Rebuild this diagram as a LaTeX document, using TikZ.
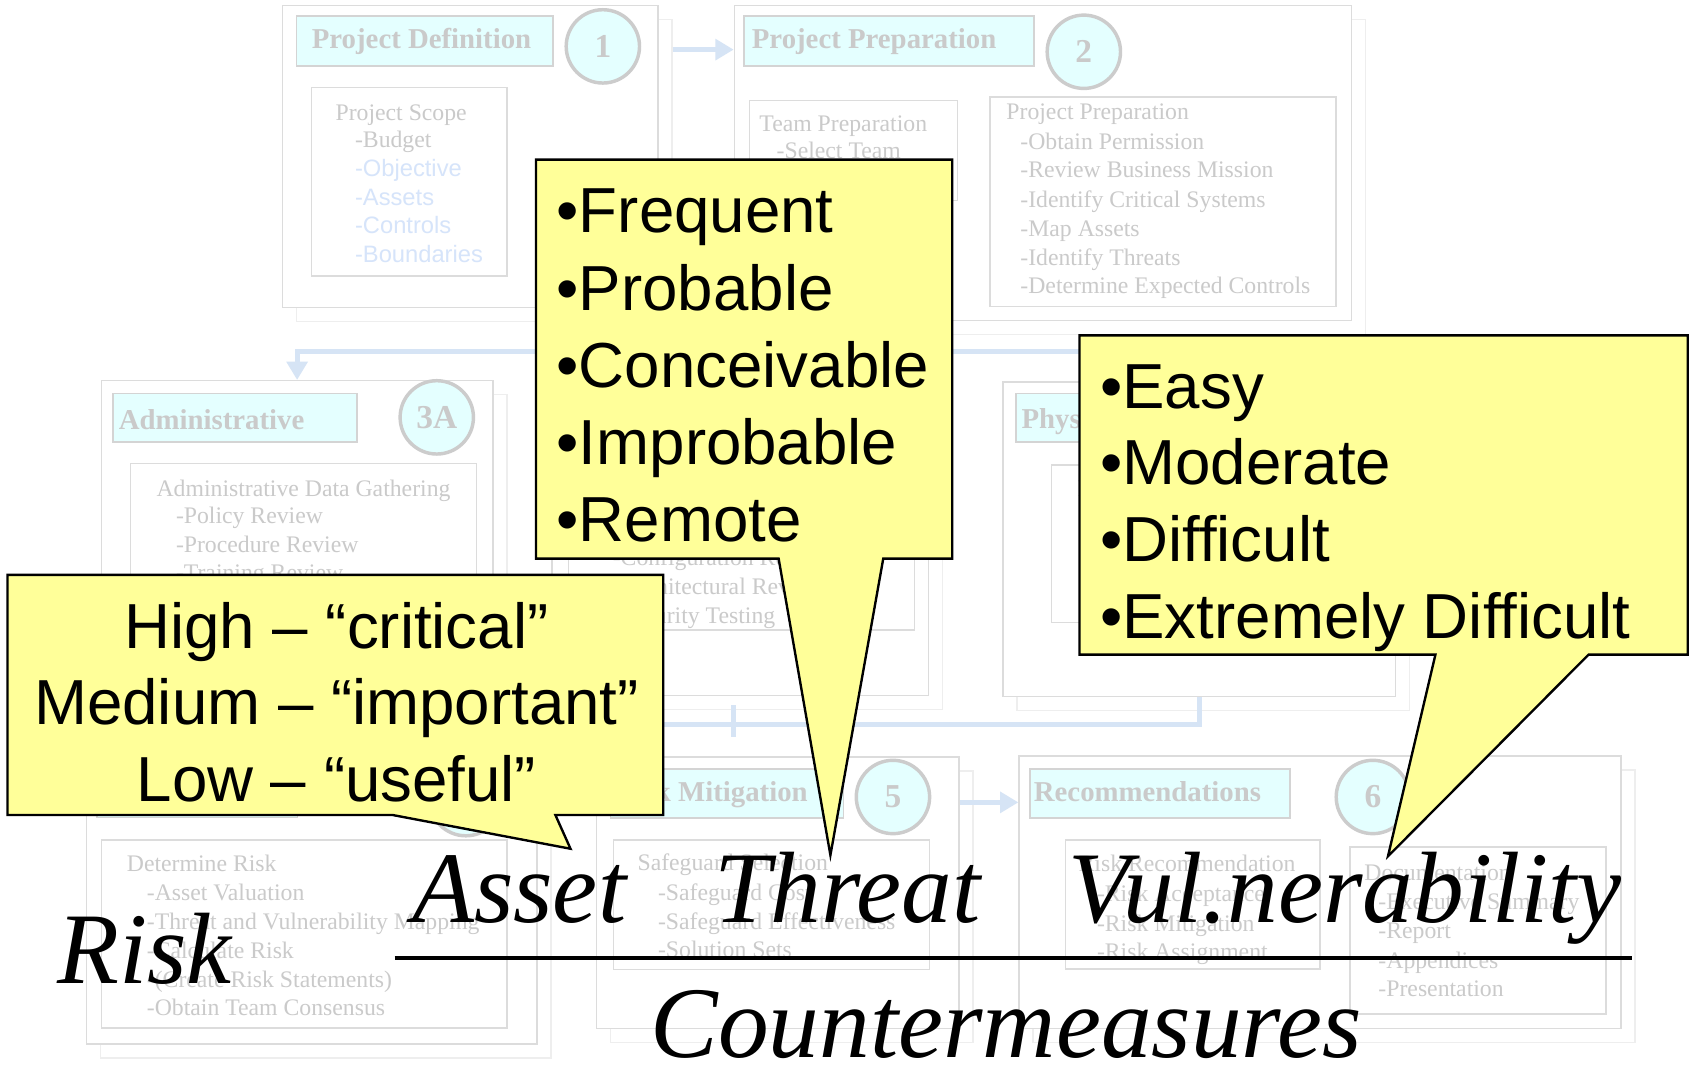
\documentclass[tikz,border=0pt]{standalone}
\usepackage{fontspec}
\setmainfont{Liberation Serif}
\newfontfamily\slidefont{Liberation Serif}
\newfontfamily\slidesans{Liberation Sans}
\newfontfamily\calloutfont{Liberation Sans}
\usetikzlibrary{arrows.meta,fit}

\definecolor{textgray}{RGB}{202,202,202}
\definecolor{itemblue}{RGB}{214,228,250}
\definecolor{framegray}{RGB}{220,220,220}
\definecolor{shadowgray}{RGB}{238,238,238}
\definecolor{titlefill}{RGB}{228,255,255}
\definecolor{titleedge}{RGB}{212,212,212}
\definecolor{ringgray}{RGB}{204,204,204}
\definecolor{flowblue}{RGB}{214,228,245}
\definecolor{calloutfill}{RGB}{255,255,153}

\tikzset{
  stageframe/.style={draw=framegray, line width=1.4pt, fill=white, inner sep=0pt},
  stageshadow/.style={draw=shadowgray, line width=1.4pt, fill=white, inner sep=0pt},
  stagetitle/.style={draw=titleedge, line width=1.4pt, fill=titlefill, inner sep=0pt},
  innerframe/.style={draw=framegray, line width=1.4pt, inner sep=0pt},
  stepring/.style={circle, draw=ringgray, line width=3.2pt, fill=titlefill,
    minimum size=68pt, inner sep=0pt, text=textgray,
    font=\slidefont\bfseries\fontsize{31}{31}\selectfont},
  titletext/.style={anchor=base west, inner sep=0pt, text=textgray,
    font=\slidefont\bfseries\fontsize{26.7}{30}\selectfont},
  itemtext/.style={anchor=base west, inner sep=0pt, text=textgray,
    font=\slidefont\fontsize{22}{26}\selectfont},
  itemblue/.style={anchor=base west, inner sep=0pt, text=itemblue,
    font=\slidesans\fontsize{22}{26}\selectfont},
  flowline/.style={draw=flowblue, line width=4.6pt},
  flowarrow/.style={flowline, -{Triangle[width=19pt,length=17pt]}},
  callout/.style={draw=black, line width=2.2pt, fill=calloutfill, miter limit=25},
  callouttext/.style={anchor=base west, inner sep=0pt,
    font=\calloutfont\fontsize{59}{70}\selectfont},
  calloutmid/.style={callouttext, anchor=base},
  bigword/.style={anchor=base west, inner sep=0pt,
    font=\slidefont\itshape\fontsize{94}{100}\selectfont},
}

% a process stage: faint offset shadow frame plus the white stage frame
\newcommand\stagebox[5]{%
  \node[stageshadow, fit={(#2+13,#3+13) (#4+13,#5+13)}] (#1s) {};
  \node[stageframe, fit={(#2,#3) (#4,#5)}] (#1) {};}
% an inner task panel
\newcommand\panelbox[5]{%
  \node[innerframe, fit={(#2,#3) (#4,#5)}] (#1) {};}

\begin{document}
\begin{tikzpicture}[x=1pt,y=-1pt]
\fill[white] (0,0) rectangle (1568,994);
\useasboundingbox (0,0) rectangle (1568,994);

% ---------- stage 1: project definition ----------
\stagebox{b1}{262}{5}{610}{285}
\node[stagetitle, fit={(275,15) (513,61)}] (t1) {};
\node[titletext] (t1x) at (289,45) {Project Definition};
\node[stepring] (c1) at (559,43) {1};
\panelbox{p1}{289}{81}{470}{256}
\node[itemtext] (p1h) at (311,112) {Project Scope};
\node[itemtext] (p1a) at (329,137) {-Budget};
\node[itemblue] (p1b) at (329,163.5) {-Objective};
\node[itemblue] (p1c) at (329,190.5) {-Assets};
\node[itemblue] (p1d) at (329,216.5) {-Controls};
\node[itemblue] (p1e) at (329,243.5) {-Boundaries};

% ---------- stage 2: project preparation ----------
\stagebox{b2}{681}{5}{1253}{297}
\node[stagetitle, fit={(690,15) (959,61)}] (t2) {};
\node[titletext] (t2x) at (697,45) {Project Preparation};
\node[stepring] (c2) at (1005,48) {2};
\panelbox{p2}{695}{93}{888}{186}
\node[itemtext] (p2h) at (704,122) {Team Preparation};
\node[itemtext] (p2a) at (720,147) {-Select Team};
\panelbox{q2}{918}{90}{1239}{284}
\node[itemtext] (q2h) at (933,110.5) {Project Preparation};
\node[itemtext] (q2a) at (946,139) {-Obtain Permission};
\node[itemtext] (q2b) at (946,165) {-Review Business Mission};
\node[itemtext] (q2c) at (946,192) {-Identify Critical Systems};
\node[itemtext] (q2d) at (946,219) {-Map Assets};
\node[itemtext] (q2e) at (946,246) {-Identify Threats};
\node[itemtext] (q2f) at (946,272) {-Determine Expected Controls};

% ---------- stage 3A: administrative ----------
\stagebox{b3a}{94}{353}{457}{645}
\node[stagetitle, fit={(105,365) (331,410)}] (t3a) {};
\node[titletext] (t3ax) at (110,398.7) {Administrative};
\node[stepring] (c3a) at (405,387) {3A};
\panelbox{p3a}{121}{430}{442}{600}
\node[itemtext] (p3ah) at (145,460) {Administrative Data Gathering};
\node[itemtext] (p3aa) at (163,485) {-Policy Review};
\node[itemtext] (p3ab) at (163,512) {-Procedure Review};
\node[itemtext] (p3ac) at (163,538) {-Training Review};

% ---------- stage 3B ----------
\stagebox{b3b}{512}{353}{861}{645}
\panelbox{p3b}{527}{430}{848}{584}
\node[itemtext] (p3ba) at (568,524) {-Configuration Review};
\node[itemtext] (p3bb) at (568,551) {-Architectural Review};
\node[itemtext] (p3bc) at (568,578) {-Security Testing};

% ---------- stage 3C: physical ----------
\stagebox{b3c}{930}{354}{1294}{646}
\node[stagetitle, fit={(942,365) (1160,410)}] (t3c) {};
\node[titletext] (t3cx) at (947,397) {Physical};
\panelbox{p3c}{975}{431}{1278}{577}
\node[itemtext] (p3ch) at (999,460) {Physical Data Gathering};

% ---------- stage 4 ----------
\stagebox{b4}{80}{703}{498}{968}
\node[stagetitle, fit={(90,714) (276,758)}] (t4) {};
\node[stepring] (c4) at (432,741) {};
\panelbox{p4}{94}{779}{470}{953}
\node[itemtext] (p4h) at (117.5,808) {Determine Risk};
\node[itemtext] (p4a) at (136,835) {-Asset Valuation};
\node[itemtext] (p4b) at (136,861.6) {-Threat and Vulnerability Mapping};
\node[itemtext] (p4c) at (136,888.5) {-Calculate Risk};
\node[itemtext] (p4d) at (136,915.4) {-(Create Risk Statements)};
\node[itemtext] (p4e) at (136,941.8) {-Obtain Team Consensus};

% ---------- stage 5: risk mitigation ----------
\stagebox{b5}{553}{702}{889}{953.5}
\node[stagetitle, fit={(566,713) (782,758.6)}] (t5) {};
\node[titletext] (t5x) at (570,743) {Risk Mitigation};
\node[stepring] (c5) at (828,739) {5};
\panelbox{p5}{569}{779}{862}{899}
\node[itemtext] (p5h) at (591,807) {Safeguard Selection};
\node[itemtext] (p5a) at (610,835) {-Safeguard Cost};
\node[itemtext] (p5b) at (610,862) {-Safeguard Effectiveness};
\node[itemtext] (p5c) at (610,888) {-Solution Sets};

% ---------- stage 6: recommendations ----------
\stagebox{b6}{945}{701}{1503}{953.5}
\node[stagetitle, fit={(955,713) (1196,758.6)}] (t6) {};
\node[titletext] (t6x) at (958.5,743) {Recommendations};
\node[stepring] (c6) at (1273,739) {6};
\panelbox{p6}{988}{779}{1224}{898.6}
\node[itemtext] (p6h) at (1000,808) {Risk Recommendation};
\node[itemtext] (p6a) at (1017,836) {-Risk Acceptance};
\node[itemtext] (p6b) at (1017,864) {-Risk Mitigation};
\node[itemtext] (p6c) at (1017,890) {-Risk Assignment};
\panelbox{q6}{1252}{785.6}{1489}{940}
\node[itemtext] (q6h) at (1265,816) {Documentation};
\node[itemtext] (q6a) at (1278,843.6) {-Executive Summary};
\node[itemtext] (q6b) at (1278,870.6) {-Report};
\node[itemtext] (q6c) at (1278,898) {-Appendices};
\node[itemtext] (q6d) at (1278,924) {-Presentation};

% ---------- process flow ----------
\coordinate (a12) at (0,46);
\draw[flowarrow] (b1s.east |- a12) -- (b2.west |- a12);
\coordinate (j2) at (800,326);
\draw[flowline] (b2.south -| j2) -- (j2);
\draw[flowarrow] (j2) -| (b3a.north);
\draw[flowarrow] (j2) -| (b3b.north);
\draw[flowarrow] (j2) -| (b3c.north);
\coordinate (j3) at (0,672);
\draw[flowarrow] (b3c.south) |- (b4.north |- j3) -- (b4.north);
\coordinate (k1) at (680,654);
\coordinate (k2) at (680,683);
\draw[flowline] (k1) -- (k2);
\coordinate (a45) at (0,741);
\draw[flowarrow] (b4.east |- a45) -- (b5.west |- a45);
\coordinate (a56) at (0,744);
\draw[flowarrow] (b5.east |- a56) -- (b6.west |- a56);

% ---------- callout: threat likelihood ----------
\draw[callout] (497,148) -- (883,148) -- (883,518) -- (819,518) -- (770,793)
  -- (722,518) -- (497,518) -- cycle;
\node[callouttext] (f1) at (516,216) {•Frequent};
\node[callouttext] (f2) at (516,287.5) {•Probable};
\node[callouttext] (f3) at (516,359) {•Conceivable};
\node[callouttext] (f4) at (516,430.5) {•Improbable};
\node[callouttext] (f5) at (516,502) {•Remote};

% ---------- callout: vulnerability level ----------
\draw[callout] (1001,311) -- (1565,311) -- (1565,607) -- (1473,607) -- (1287,794)
  -- (1331,607) -- (1001,607) -- cycle;
\node[callouttext] (v1) at (1020,378.7) {•Easy};
\node[callouttext] (v2) at (1020,449.5) {•Moderate};
\node[callouttext] (v3) at (1020,520.8) {•Difficult};
\node[callouttext] (v4) at (1020,592) {•Extremely Difficult};

% ---------- callout: asset value ----------
\draw[callout] (7,533) -- (615,533) -- (615,755.7) -- (515,755.7) -- (529,787)
  -- (364,755.7) -- (7,755.7) -- cycle;
\node[calloutmid] (h1) at (312,601) {High – “critical”};
\node[calloutmid] (h2) at (312,672) {Medium – “important”};
\node[calloutmid] (h3) at (312,743) {Low – “useful”};

% ---------- risk formula ----------
\node[bigword] (wrisk) at (53,912) {Risk};
\node[bigword] (wasset) at (382,855) {Asset};
\node[bigword] (wthreat) at (662,855) {Threat};
\node[bigword] (wvuln) at (991,855) {Vul.nerability};
\node[bigword] (wcounter) at (603,981) {Countermeasures};
\coordinate (fl) at (366,888);
\coordinate (fr) at (1513,888);
\draw[line width=3.5pt] (fl) -- (fr);
\end{tikzpicture}
\end{document}
